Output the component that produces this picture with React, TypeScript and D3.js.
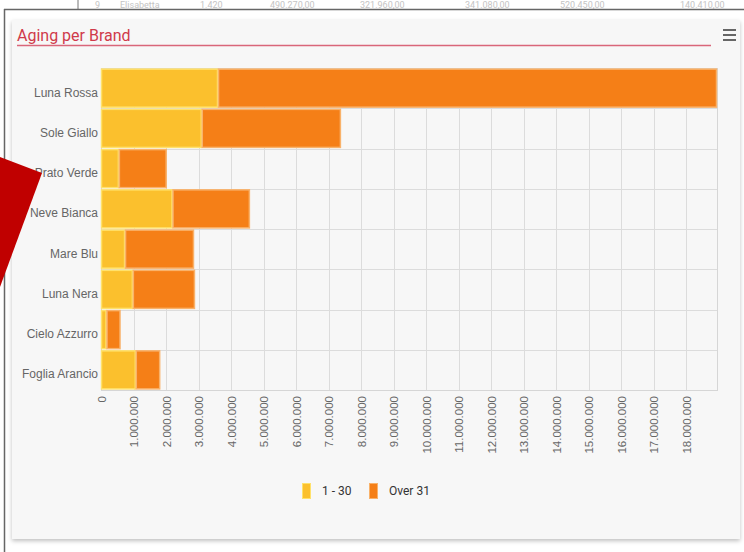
import React from "react";
import * as d3 from "d3";

const categories = ["Luna Rossa", "Sole Giallo", "Prato Verde", "Neve Bianca", "Mare Blu", "Luna Nera", "Cielo Azzurro", "Foglia Arancio"];
const series1to30 = [3600000, 3100000, 550000, 2200000, 740000, 980000, 170000, 1070000];
const seriesOver31 = [15350000, 4280000, 1470000, 2380000, 2120000, 1910000, 430000, 750000];
const seriesNames = ["1 - 30", "Over 31"];
const seriesColors = ["#fbc02d", "#f57f17"];
const seriesBorders = ["#ffe16b", "#f9b26a"];
const xTicks = d3.range(0, 19000000, 1000000);
const bgTexts = ["9", "Elisabetta", "1.420", "490.270,00", "321.960,00", "341.080,00", "520.450,00", "140.410,00"];
const bgTextX = [95, 120, 200, 270, 360, 465, 560, 680];

const fmt = (v: number) => (v === 0 ? "0" : d3.format(",")(v).replace(/,/g, "."));

export default function App() {
  const W = 744, H = 552;
  const left = 101, right = 717, top = 68, bottom = 390;
  const totals = categories.map((_, i) => series1to30[i] + seriesOver31[i]);
  const x = d3.scaleLinear().domain([0, d3.max(totals)!]).range([left, right]);
  const y = d3.scaleBand().domain(categories).range([top, bottom]).paddingInner(0.03).paddingOuter(0.015);
  const yCat = d3.scaleBand().domain(categories).range([top, bottom]);
  const stack = d3.stack<number>().keys(["a", "b"]).value((i, k) => (k === "a" ? series1to30[i] : seriesOver31[i]));
  const stacked = stack(categories.map((_, i) => i));
  const font = "Roboto, 'Liberation Sans', Arial, sans-serif";
  const axisFont = "'Liberation Sans', Arial, sans-serif";

  return (
    <svg width={W} height={H} style={{ position: "absolute", left: 0, top: 0, background: "#ffffff" }} fontFamily={font}>
      <rect x={0} y={0} width={W} height={H} fill="#fff" />
      <g fill="#c4c4c4" fontSize={9}>
        {bgTexts.map((t, i) => (
          <text key={i} x={bgTextX[i]} y={8}>{t}</text>
        ))}
      </g>
      <line x1={78} y1={0} x2={78} y2={9} stroke="#777" />
      <line x1={4} y1={9.5} x2={W} y2={9.5} stroke="#666" strokeWidth={1.5} />
      <line x1={4.5} y1={9} x2={4.5} y2={H} stroke="#666" strokeWidth={1.5} />
      <defs>
        <filter id="sh" x="-5%" y="-5%" width="110%" height="110%">
          <feDropShadow dx={0} dy={2} stdDeviation={2} floodColor="#000" floodOpacity={0.25} />
        </filter>
      </defs>
      <rect x={12} y={20} width={728} height={519} fill="#f7f7f7" filter="url(#sh)" />

      <text x={17} y={41} fill="#d03a4a" fontSize={16}>Aging per Brand</text>
      <line x1={17} y1={45.5} x2={711} y2={45.5} stroke="#d9667a" strokeWidth={1.5} />
      <g stroke="#666" strokeWidth={2}>
        <line x1={723} y1={30} x2={736} y2={30} />
        <line x1={723} y1={35} x2={736} y2={35} />
        <line x1={723} y1={40} x2={736} y2={40} />
      </g>

      <g stroke="#dcdcdc" strokeWidth={1}>
        {xTicks.map((t) => (
          <line key={t} x1={Math.round(x(t)) + 0.5} x2={Math.round(x(t)) + 0.5} y1={top} y2={bottom} />
        ))}
        {categories.map((c) => (
          <line key={c} x1={left} x2={right} y1={Math.round(yCat(c)!) + 0.5} y2={Math.round(yCat(c)!) + 0.5} />
        ))}
      </g>
      <rect x={left + 0.5} y={top + 0.5} width={right - left} height={bottom - top} fill="none" stroke="#d6d6d6" />

      {stacked.map((s, si) => (
        <g key={si}>
          {s.map((d, i) => (
            <rect
              key={i}
              x={x(d[0]) + 0.5}
              y={y(categories[i])! + 0.5}
              width={Math.max(0, x(d[1]) - x(d[0]) - 1)}
              height={y.bandwidth() - 1}
              fill={seriesColors[si]}
              stroke={seriesBorders[si]}
              strokeWidth={1.5}
            />
          ))}
        </g>
      ))}

      <g fill="#666" fontSize={12} textAnchor="end" fontFamily={axisFont}>
        {categories.map((c) => (
          <text key={c} x={98} y={yCat(c)! + yCat.bandwidth() / 2 + 8.5}>{c}</text>
        ))}
      </g>

      <g fill="#666" fontSize={11.5} textAnchor="end" fontFamily={axisFont}>
        {xTicks.map((t) => (
          <text key={t} transform={`translate(${x(t) + 4.5},${bottom + 6}) rotate(-90)`}>{fmt(t)}</text>
        ))}
      </g>

      <g fontSize={12} fill="#333">
        <rect x={302.5} y={483.5} width={8} height={15} fill={seriesColors[0]} stroke={seriesBorders[0]} />
        <text x={322} y={495}>{seriesNames[0]}</text>
        <rect x={369.5} y={483.5} width={8} height={15} fill={seriesColors[1]} stroke={seriesBorders[1]} />
        <text x={389} y={495}>{seriesNames[1]}</text>
      </g>

      <polygon points="0,157 42,173 0,287" fill="#c00000" />
    </svg>
  );
}
